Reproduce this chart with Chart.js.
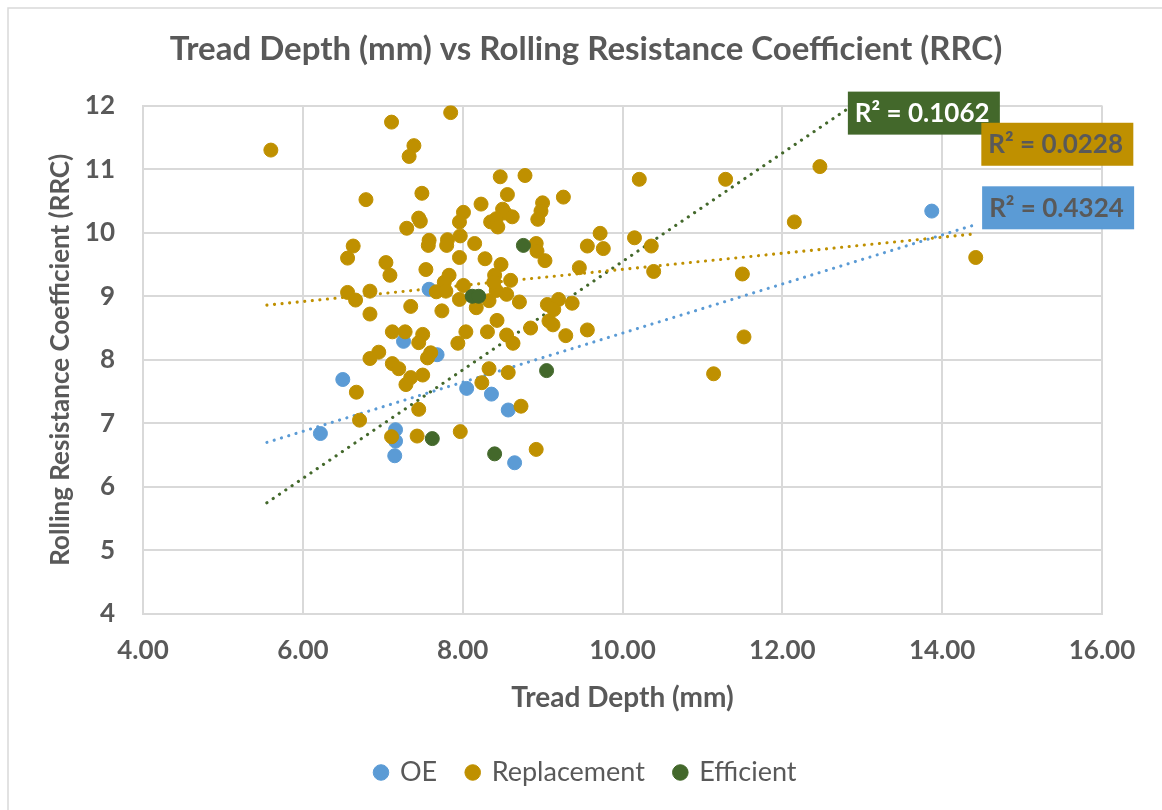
<!DOCTYPE html>
<html>
<head>
<meta charset="utf-8">
<title>Tread Depth vs RRC</title>
<script src="https://cdn.jsdelivr.net/npm/chart.js@4.4.0/dist/chart.umd.min.js"></script>
<style>
    body { margin: 0; background: #fff; }
    #wrap { width: 1162px; height: 810px; }
</style>
</head>
<body>
<div id="wrap"><canvas id="rrcChart" width="1162" height="810"></canvas></div>
<script>
// Values (tread depth in mm, RRC)
const oeDepth = [7.26, 7.58, 7.68, 6.50, 6.22, 7.16, 7.16, 7.15, 8.05, 8.36, 8.57, 8.65, 13.87];
const oeRrc   = [8.29, 9.11, 8.08, 7.69, 6.84, 6.90, 6.72, 6.49, 7.55, 7.46, 7.21, 6.38, 10.34];

const repDepth = [
    5.60, 7.11, 7.85, 7.39, 7.33, 7.49, 6.79, 7.45, 7.47, 7.30,
    7.58, 7.57, 6.63, 6.56, 7.04, 7.09, 7.54, 6.56, 6.66, 6.84,
    6.84, 7.35, 7.67, 7.74, 7.12, 7.28, 7.50, 7.45, 6.95, 6.84,
    7.12, 7.20, 7.35, 7.29, 7.50, 7.60, 7.56, 6.67, 6.71, 7.11,
    7.43, 7.45, 8.47, 8.78, 8.56, 8.23, 9.26, 9.00, 8.98, 8.94,
    8.01, 7.96, 8.50, 8.53, 8.62, 8.35, 8.42, 8.44, 9.72, 9.56,
    9.76, 7.81, 7.80, 7.97, 8.15, 8.92, 8.93, 9.03, 7.96, 8.28,
    8.48, 8.40, 9.46, 7.83, 7.77, 8.01, 8.60, 7.79, 7.96, 8.33,
    8.55, 8.71, 8.42, 8.39, 8.17, 9.06, 9.20, 9.37, 9.14, 9.08,
    9.13, 8.43, 8.31, 8.55, 8.85, 9.56, 9.29, 8.04, 7.94, 8.63,
    8.33, 8.24, 8.57, 8.73, 7.97, 8.92, 10.21, 11.29, 12.15, 10.15,
    10.36, 10.39, 11.50, 11.52, 11.14, 12.47, 14.42
];
const repRrc = [
    11.30, 11.74, 11.89, 11.37, 11.20, 10.62, 10.52, 10.23, 10.18, 10.07,
    9.88, 9.80, 9.79, 9.60, 9.53, 9.33, 9.42, 9.06, 8.94, 9.08,
    8.72, 8.84, 9.07, 8.77, 8.44, 8.44, 8.40, 8.27, 8.12, 8.02,
    7.94, 7.86, 7.72, 7.61, 7.76, 8.11, 8.03, 7.49, 7.05, 6.79,
    6.80, 7.22, 10.88, 10.90, 10.60, 10.45, 10.56, 10.47, 10.34, 10.21,
    10.32, 10.17, 10.37, 10.31, 10.25, 10.17, 10.22, 10.09, 9.99, 9.79,
    9.75, 9.89, 9.80, 9.95, 9.83, 9.83, 9.71, 9.56, 9.61, 9.59,
    9.50, 9.33, 9.45, 9.33, 9.22, 9.17, 9.25, 9.08, 8.95, 8.93,
    9.03, 8.91, 9.09, 9.22, 8.82, 8.87, 8.95, 8.89, 8.79, 8.61,
    8.55, 8.62, 8.44, 8.39, 8.50, 8.47, 8.38, 8.44, 8.26, 8.26,
    7.86, 7.64, 7.80, 7.27, 6.87, 6.59, 10.84, 10.84, 10.17, 9.92,
    9.79, 9.39, 9.35, 8.36, 7.78, 11.04, 9.61
];

const effDepth = [8.76, 8.12, 8.20, 7.62, 9.05, 8.40];
const effRrc   = [9.80, 9.00, 9.00, 6.76, 7.83, 6.52];

// Linear trendline end points as drawn in the picture
const trendDepth = [5.55, 14.40];
const oeTrend  = [6.70, 10.12];
const repTrend = [8.86, 9.98];
const effTrend = [5.75, 13.30];

const seriesNames = ['OE', 'Replacement', 'Efficient'];
const rSquared = ['R² = 0.4324', 'R² = 0.0228', 'R² = 0.1062'];

const blue = '#5B9BD5';
const gold = '#BF9000';
const green = '#43682B';
const textGray = '#595959';
const gridGray = '#D9D9D9';

function toPoints(xs, ys) {
    return xs.map((x, i) => ({ x: x, y: ys[i] }));
}

function scatterSet(label, xs, ys, color, order) {
    return {
        label: label,
        data: toPoints(xs, ys),
        backgroundColor: color,
        borderColor: color,
        borderWidth: 1,
        pointRadius: 7,
        pointHoverRadius: 7,
        order: order
    };
}

function trendSet(ys, color) {
    return {
        label: 'trend',
        data: toPoints(trendDepth, ys),
        showLine: true,
        pointRadius: 0,
        borderColor: color,
        borderWidth: 3.1,
        borderDash: [0.1, 7.5],
        borderCapStyle: 'round',
        fill: false,
        order: 10
    };
}

// R² boxes, anchored by data value of their top-left corner
const rBoxes = [
    { text: rSquared[2], x: 12.82, y: 12.22, fill: green, color: '#FFFFFF' },
    { text: rSquared[1], x: 14.49, y: 11.73, fill: gold, color: textGray },
    { text: rSquared[0], x: 14.50, y: 10.73, fill: blue, color: textGray }
];

const rLabelPlugin = {
    id: 'rLabels',
    beforeDraw(chart) {
        // light outer frame of the Excel chart
        const ctx = chart.ctx;
        ctx.save();
        ctx.strokeStyle = gridGray;
        ctx.lineWidth = 1.5;
        ctx.beginPath();
        ctx.moveTo(8, 810);
        ctx.lineTo(8, 8);
        ctx.lineTo(1162, 8);
        ctx.stroke();
        ctx.restore();
    },
    afterDatasetsDraw(chart) {
        const ctx = chart.ctx;
        const xs = chart.scales.x;
        const ys = chart.scales.y;
        ctx.save();
        ctx.font = 'bold 26px Lato, sans-serif';
        ctx.textBaseline = 'middle';
        rBoxes.forEach(b => {
            const left = xs.getPixelForValue(b.x);
            const top = ys.getPixelForValue(b.y);
            ctx.fillStyle = b.fill;
            ctx.fillRect(left, top, 152, 43);
            ctx.fillStyle = b.color;
            ctx.fillText(b.text, left + 7, top + 22);
        });
        ctx.restore();
    }
};

Chart.defaults.font.family = 'Lato, sans-serif';
Chart.defaults.color = textGray;

const ctx = document.getElementById('rrcChart');
new Chart(ctx, {
    type: 'scatter',
    data: {
        datasets: [
            scatterSet(seriesNames[0], oeDepth, oeRrc, blue, 3),
            scatterSet(seriesNames[1], repDepth, repRrc, gold, 2),
            scatterSet(seriesNames[2], effDepth, effRrc, green, 1),
            trendSet(oeTrend, blue),
            trendSet(repTrend, gold),
            trendSet(effTrend, green)
        ]
    },
    options: {
        responsive: false,
        animation: false,
        layout: {
            padding: { left: 10, right: 0, top: 0, bottom: 14 }
        },
        plugins: {
            title: {
                display: true,
                text: 'Tread Depth (mm) vs Rolling Resistance Coefficient (RRC)',
                color: textGray,
                font: { size: 33, weight: 'bold' },
                padding: { top: 30, bottom: 36 }
            },
            legend: {
                position: 'bottom',
                labels: {
                    usePointStyle: true,
                    pointStyle: 'circle',
                    boxWidth: 11,
                    boxHeight: 11,
                    padding: 30,
                    color: textGray,
                    font: { size: 27 },
                    filter: item => item.datasetIndex < 3,
                    sort: (a, b) => a.datasetIndex - b.datasetIndex
                }
            },
            tooltip: { enabled: false }
        },
        scales: {
            x: {
                type: 'linear',
                min: 4,
                max: 16,
                afterFit: s => { s.height = 115; },
                ticks: {
                    stepSize: 2,
                    padding: 21,
                    color: textGray,
                    font: { size: 26, weight: 'bold' },
                    callback: v => v.toFixed(2)
                },
                grid: { color: gridGray, lineWidth: 2, drawTicks: false },
                border: { color: gridGray, width: 2 },
                title: {
                    display: true,
                    text: 'Tread Depth (mm)',
                    color: textGray,
                    font: { size: 28, weight: 'bold' },
                    padding: { top: 0, bottom: 14 }
                }
            },
            y: {
                min: 4,
                max: 12,
                afterFit: s => { s.width = 133; },
                ticks: {
                    stepSize: 1,
                    padding: 28,
                    color: textGray,
                    font: { size: 26, weight: 'bold' }
                },
                grid: { color: gridGray, lineWidth: 2, drawTicks: false },
                border: { color: gridGray, width: 2 },
                title: {
                    display: true,
                    text: 'Rolling Resistance Coefficient (RRC)',
                    color: textGray,
                    font: { size: 26, weight: 'bold' },
                    padding: { top: 35, bottom: 0 }
                }
            },
            // empty right-hand axis that keeps room for the R² boxes
            yPad: {
                position: 'right',
                afterFit: s => { s.width = 60; },
                ticks: { display: false },
                grid: { display: false },
                border: { display: false }
            }
        }
    },
    plugins: [rLabelPlugin]
});
</script>
</body>
</html>
